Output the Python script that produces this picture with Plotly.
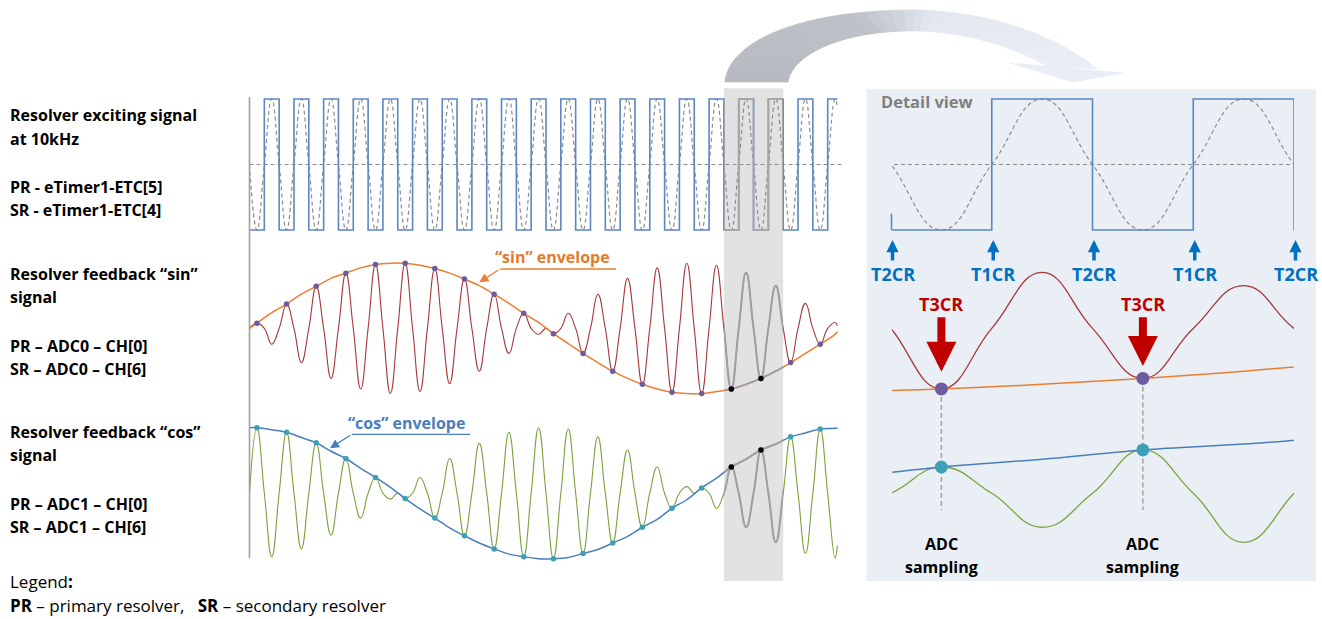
import plotly.graph_objects as go

W, H = 1322, 619
FONT = "Open Sans"

# ---------------- data ----------------
# time unit: one period of the 10 kHz excitation, t = 0 at the left axis
t_end = 19.83                       # right end of the waveforms
axis_end = 20.0                     # right end of the dashed zero line
exc_levels = [-1, 1] * 20           # square wave: level of each half period
exc_sine_extrema = [-1, 1] * 20     # dashed reference sine: extrema
exc_sine_end = 0.87
# envelope value at each carrier extremum (t = 0.25, 0.75, 1.25, ...)
sin_env = [0.08, 0.24, 0.37, 0.52, 0.64, 0.76, 0.84, 0.92, 0.97, 0.99,
           0.99, 0.96, 0.91, 0.84, 0.75, 0.65, 0.52, 0.38, 0.23, 0.09,
           -0.08, -0.23, -0.38, -0.52, -0.65, -0.76, -0.85, -0.92, -0.97, -0.99,
           -0.99, -0.96, -0.92, -0.85, -0.76, -0.65, -0.52, -0.38, -0.24, -0.09]
cos_env = [1.0, 0.97, 0.93, 0.85, 0.77, 0.64, 0.53, 0.38, 0.24, 0.09,
           -0.08, -0.24, -0.38, -0.53, -0.65, -0.76, -0.85, -0.93, -0.97, -1.0,
           -1.0, -0.98, -0.92, -0.86, -0.76, -0.66, -0.52, -0.40, -0.23, -0.10,
           0.08, 0.23, 0.40, 0.52, 0.66, 0.75, 0.86, 0.92, 0.98, 0.99]
sin_env_start, sin_env_end = 0.0, -0.05
cos_env_start, cos_env_end = 1.0, 1.0
sin_sig_end, cos_sig_end = 0.04, -0.80
highlight_t = [16, 18]
detail_t = [16.006, 18]
sample_t = [16.25, 17.25]
edge_t = [16, 16.5, 17, 17.5, 18]
edge_labels = ["T2CR", "T1CR", "T2CR", "T1CR", "T2CR"]

left_labels = [  # (text, baseline px)
    ("Resolver exciting signal", 121.7), ("at 10kHz", 145.0),
    ("PR - eTimer1-ETC[5]", 193.3), ("SR - eTimer1-ETC[4]", 216.7),
    ("Resolver feedback \u201csin\u201d", 280.0), ("signal", 303.5),
    ("PR \u2013 ADC0 \u2013 CH[0]", 352.0), ("SR \u2013 ADC0 \u2013 CH[6]", 375.5),
    ("Resolver feedback \u201ccos\u201d", 438.0), ("signal", 461.7),
    ("PR \u2013 ADC1 \u2013 CH[0]", 510.0), ("SR \u2013 ADC1 \u2013 CH[6]", 533.3),
]

# ---------------- geometry / styles ----------------
T0_PX, PX_PER_T = 249.5, 29.65
DET_X0, DET_X1 = 891.0, 1294.0
EXC_C, EXC_A = 164.5, 65.5
SIN_C, SIN_A = 328.4, 65.8
COS_C, COS_A = 493.2, 65.5

C_SQ = "#5B87C5"; C_DASH = "#8C8C8C"; C_RED = "#A8373A"; C_GRN = "#7AA33C"
C_ORG = "#ED7D31"; C_BLU = "#4A7EBB"; C_PUR = "#6E5A9E"; C_TEAL = "#3E9FB8"
C_GRAY = "#A0A0A0"


def X(p):
    return p / W


def Y(p):
    return 1 - p / H


def yr(c, a):
    return [(c - H) / a, c / a]


det_px_per_t = (DET_X1 - DET_X0) / (highlight_t[1] - highlight_t[0])


def detail_px(t):
    return DET_X0 + (t - highlight_t[0]) * det_px_per_t


half_t = [0.25 + 0.5 * j for j in range(len(sin_env))]


def signal(values, end, carrier=True):
    xs, ys = [], []
    for j, v in enumerate(values):
        xs += [0.5 * j, 0.5 * j + 0.25]
        ys += [0.0, (v if j % 2 == 0 else -v) if carrier else v]
    return xs + [t_end], ys + [end]


def envelope(values, start, end):
    return [0.0] + half_t + [t_end], [start] + values + [end]


sq_x = [0.5 * j for j in range(len(exc_levels))] + [t_end]
sq_y = exc_levels + [exc_levels[-1]]
es_x, es_y = signal(exc_sine_extrema, exc_sine_end, carrier=False)
ss_x, ss_y = signal(sin_env, sin_sig_end)
cs_x, cs_y = signal(cos_env, cos_sig_end)
se_x, se_y = envelope(sin_env, sin_env_start, sin_env_end)
ce_x, ce_y = envelope(cos_env, cos_env_start, cos_env_end)
dot_t = half_t[0::2]
dot_sin = sin_env[0::2]
dot_cos = cos_env[0::2]

fig = go.Figure()


def line(x, y, xa, ya, color, width, dash=None, shape="spline", smooth=1.3):
    ln = dict(color=color, width=width, shape=shape)
    if shape == "spline":
        ln["smoothing"] = smooth
    if dash:
        ln["dash"] = dash
    fig.add_trace(go.Scatter(x=x, y=y, xaxis=xa, yaxis=ya, mode="lines",
                             line=ln, hoverinfo="skip"))


def dots(x, y, xa, ya, color, size):
    fig.add_trace(go.Scatter(x=x, y=y, xaxis=xa, yaxis=ya, mode="markers",
                             marker=dict(color=color, size=size, line=dict(width=0)),
                             hoverinfo="skip"))


# main view and detail view share the data; x2 is the zoomed time axis
for xa, big in (("x", False), ("x2", True)):
    lw = 1.3 if big else 1.1
    line([0, axis_end], [0, 0], xa, "y", C_DASH, 1.2, dash="4px,3px", shape="linear")
    line(es_x, es_y, xa, "y", C_DASH, 1.2, dash="4px,3px")
    line(sq_x, sq_y, xa, "y", C_SQ, 1.6, shape="hv")
    line(ss_x, ss_y, xa, "y2", C_RED, lw)
    line(se_x, se_y, xa, "y2", C_ORG, 1.5, smooth=1.0)
    line(cs_x, cs_y, xa, "y3", C_GRN, lw)
    line(ce_x, ce_y, xa, "y3", C_BLU, 1.5, smooth=1.0)
    dots(dot_t, dot_sin, xa, "y2", C_PUR, 13 if big else 5.5)
    dots(dot_t, dot_cos, xa, "y3", C_TEAL, 13 if big else 5.5)

# highlighted window in the main view (x3 clips to it)
line(sq_x, sq_y, "x3", "y", "#A6A6A6", 1.8, shape="hv")
line(ss_x, ss_y, "x3", "y2", C_GRAY, 2.0)
line(se_x, se_y, "x3", "y2", C_GRAY, 2.0, smooth=1.0)
line(cs_x, cs_y, "x3", "y3", C_GRAY, 2.0)
line(ce_x, ce_y, "x3", "y3", C_GRAY, 2.0, smooth=1.0)
dots(dot_t, dot_sin, "x3", "y2", "black", 5.5)
dots(dot_t, dot_cos, "x3", "y3", "black", 5.5)

# ---------------- shapes ----------------
shapes = []
# detail panel
shapes.append(dict(type="rect", xref="paper", yref="paper", x0=X(866.7), x1=X(1316),
                   y0=Y(581), y1=Y(89.3), fillcolor="#EAEFF6", line=dict(width=0), layer="below"))
# highlight window
shapes.append(dict(type="rect", xref="x", yref="paper", x0=highlight_t[0], x1=highlight_t[1],
                   y0=Y(581), y1=Y(88.3), fillcolor="#E2E2E2", line=dict(width=0), layer="below"))
# left axis line
shapes.append(dict(type="line", xref="x", yref="paper", x0=0, x1=0, y0=Y(97), y1=Y(558),
                   line=dict(color="#A0A0A0", width=1.6)))
# start of the falling edge in the detail view
shapes.append(dict(type="line", xref="paper", yref="y", x0=X(DET_X0 + 0.5), x1=X(DET_X0 + 0.5),
                   y0=-1, y1=-0.75, line=dict(color=C_SQ, width=1.6)))
# label underlines
shapes.append(dict(type="line", xref="paper", yref="paper", x0=X(500), x1=X(616), y0=Y(269), y1=Y(269),
                   line=dict(color=C_ORG, width=1.3)))
shapes.append(dict(type="line", xref="paper", yref="paper", x0=X(351.7), x1=X(470), y0=Y(434.3),
                   y1=Y(434.3), line=dict(color=C_BLU, width=1.3)))
# ADC sampling guide lines
for t, v in zip(sample_t, [sin_env[half_t.index(t)] for t in sample_t]):
    shapes.append(dict(type="line", xref="x2", yref="y2", x0=t, x1=t, y0=v,
                       y1=(SIN_C - 510) / SIN_A, line=dict(color="#A0A0A0", width=1.5, dash="5px,3px"),
                       layer="below"))


# curved "zoom" arrow as a band with a colour gradient
def bez(p, s):
    a = (1 - s) ** 3; b = 3 * (1 - s) ** 2 * s; c = 3 * (1 - s) * s * s; d = s ** 3
    return (a * p[0][0] + b * p[1][0] + c * p[2][0] + d * p[3][0],
            a * p[0][1] + b * p[1][1] + c * p[2][1] + d * p[3][1])


OUT = [[(725, 82), (728, 45), (790, 12), (905, 10)], [(905, 10), (990, 9), (1060, 38), (1097, 69)]]
INN = [[(788, 82), (792, 55), (840, 32), (907, 31)], [(907, 31), (960, 30), (1010, 45), (1047, 66)]]


def chain(c, s):
    return bez(c[0], 2 * s) if s <= 0.5 else bez(c[1], 2 * s - 1)


def mix(c1, c2, f):
    a = [int(c1[i:i + 2], 16) for i in (1, 3, 5)]
    b = [int(c2[i:i + 2], 16) for i in (1, 3, 5)]
    return "#%02X%02X%02X" % tuple(round(a[i] + (b[i] - a[i]) * f) for i in range(3))


def band_color(s):
    if s < 0.42:
        return mix("#B6BAC0", "#BEC2C8", s / 0.42)
    if s < 0.56:
        return mix("#BEC2C8", "#E3E8F0", (s - 0.42) / 0.14)
    return mix("#E3E8F0", "#E9EEF6", (s - 0.56) / 0.44)


def P(pt):
    return "%.5f,%.5f" % (X(pt[0]), Y(pt[1]))


N = 48
for i in range(N):
    s0, s1 = i / N, (i + 1) / N
    pts = [chain(OUT, s0), chain(OUT, s1), chain(INN, s1), chain(INN, s0)]
    col = band_color((s0 + s1) / 2)
    shapes.append(dict(type="path", xref="paper", yref="paper",
                       path="M" + "L".join(P(p) for p in pts) + "Z",
                       fillcolor=col, line=dict(color=col, width=0.8)))
shapes.append(dict(type="path", xref="paper", yref="paper",
                   path="M" + "L".join(P(p) for p in [(1010, 63), (1123, 73), (1073, 82)]) + "Z",
                   fillcolor="#E9EEF6", line=dict(color="#E9EEF6", width=0.8)))

# ---------------- annotations ----------------
ann = []


def text(px, base, s, size=16, color="black", bold=True, xanchor="left"):
    ann.append(dict(x=X(px), y=Y(base - 0.39 * size), xref="paper", yref="paper",
                    text=("<b>%s</b>" % s) if bold else s, showarrow=False,
                    xanchor=xanchor, yanchor="middle",
                    font=dict(family=FONT, size=size, color=color)))


for s, b in left_labels:
    text(8, b, s)
text(8, 588.3, "Legend<b>:</b>", size=17, bold=False)
text(8, 611.7, "<b>PR</b> \u2013 primary resolver,   <b>SR</b> \u2013 secondary resolver",
     size=17, bold=False)
text(493.3, 263.3, "\u201csin\u201d envelope", color="#E57A2E")
text(346, 429, "\u201ccos\u201d envelope", color=C_BLU)
text(879.3, 108.3, "Detail view", size=16.5, color="#7F7F7F")

# leader arrows of the envelope labels
for tip, tail, col in (((479.3, 282.3), (500, 269), C_ORG), ((330, 448.3), (351.7, 434.3), C_BLU)):
    ann.append(dict(x=X(tip[0]), y=Y(tip[1]), xref="paper", yref="paper", text="",
                    showarrow=True, ax=tail[0] - tip[0], ay=tail[1] - tip[1],
                    arrowhead=2, arrowsize=1.4, arrowwidth=1.3, arrowcolor=col))

# timer compare events
for t, lab in zip(edge_t, edge_labels):
    ann.append(dict(x=X(detail_px(t) + 1.5), xref="paper", y=Y(240), yref="paper",
                    text="<b>%s</b>" % lab,
                    showarrow=True, ax=0, ay=34, arrowhead=2, arrowsize=0.7, arrowwidth=3.5,
                    arrowcolor="#0070C0", font=dict(family=FONT, size=18, color="#0070C0")))
for t, tip in zip(sample_t, (371.7, 366.0)):
    ann.append(dict(x=t, xref="x2", y=Y(tip), yref="paper", text="<b>T3CR</b>",
                    showarrow=True, ax=0, ay=303.7 - tip, arrowhead=2, arrowsize=0.75,
                    arrowwidth=8, arrowcolor="#C00000",
                    font=dict(family=FONT, size=18, color="#C00000")))
    ann.append(dict(x=t, xref="x2", y=Y(550 - 6.2), yref="paper", text="<b>ADC</b>",
                    showarrow=False, xanchor="center", yanchor="middle",
                    font=dict(family=FONT, size=16, color="black")))
    ann.append(dict(x=t, xref="x2", y=Y(573.3 - 6.2), yref="paper", text="<b>sampling</b>",
                    showarrow=False, xanchor="center", yanchor="middle",
                    font=dict(family=FONT, size=16, color="black")))

ax_common = dict(visible=False, fixedrange=True)
fig.update_layout(
    width=W, height=H, margin=dict(l=0, r=0, t=0, b=0, pad=0),
    paper_bgcolor="white", plot_bgcolor="rgba(0,0,0,0)",
    showlegend=False, hovermode=False,
    xaxis=dict(domain=[0, 1], range=[-T0_PX / PX_PER_T, (W - T0_PX) / PX_PER_T], anchor="y", **ax_common),
    xaxis2=dict(domain=[X(detail_px(detail_t[0])), X(DET_X1)],
                range=detail_t, anchor="y", **ax_common),
    xaxis3=dict(domain=[X(T0_PX + PX_PER_T * highlight_t[0]), X(T0_PX + PX_PER_T * highlight_t[1])],
                range=highlight_t, anchor="y", **ax_common),
    yaxis=dict(domain=[0, 1], range=yr(EXC_C, EXC_A), anchor="x", **ax_common),
    yaxis2=dict(domain=[0, 1], range=yr(SIN_C, SIN_A), anchor="x", overlaying="y", **ax_common),
    yaxis3=dict(domain=[0, 1], range=yr(COS_C, COS_A), anchor="x", overlaying="y", **ax_common),
    shapes=shapes, annotations=ann,
)

fig.write_html("out.html", config={"displayModeBar": False},
               post_script="document.body.style.margin='0';")
